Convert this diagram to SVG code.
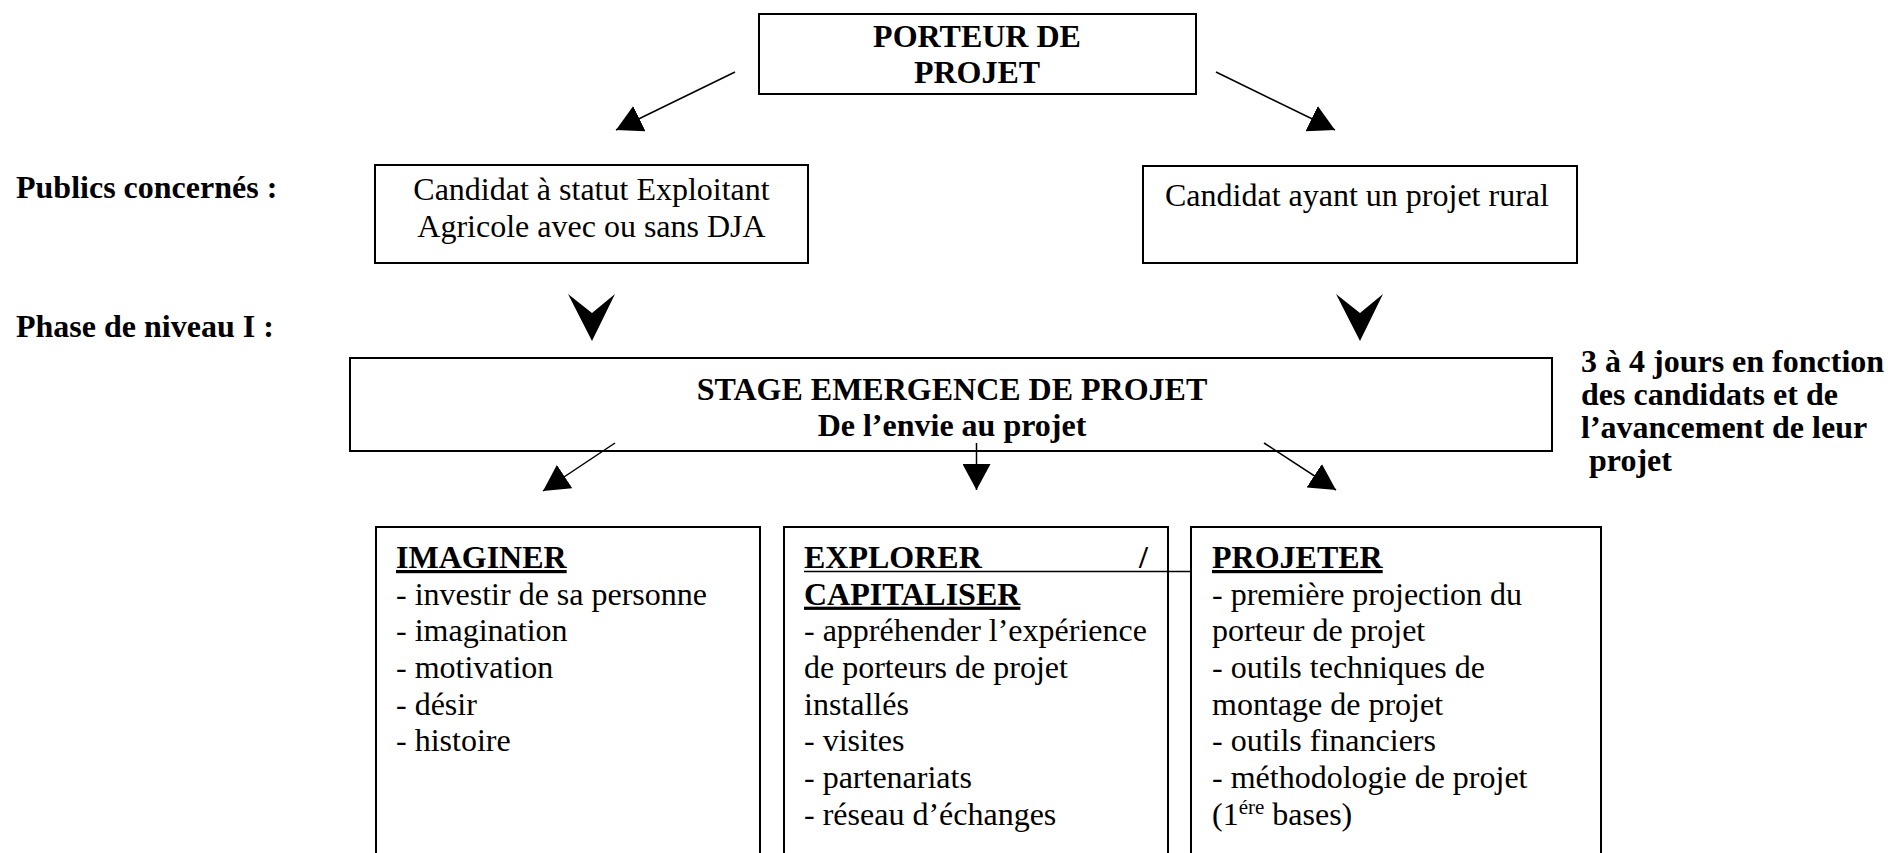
<svg xmlns="http://www.w3.org/2000/svg" width="1888" height="853" viewBox="0 0 1888 853">
<style>
  text { font-family: "Liberation Serif", "Times New Roman", serif; font-size: 32px; fill: #000; }
  .b { font-weight: bold; }
  .u { text-decoration: underline; }
  .c { text-anchor: middle; }
  .box { fill: #fff; stroke: #000; stroke-width: 2; }
  .conn { stroke: #000; stroke-width: 1.5; fill: none; }
  .chev { fill: #000; stroke: none; }
  .ul { stroke: #000; stroke-width: 1.6; }
</style>
<defs>
  <marker id="arr" viewBox="0 0 26 28" refX="26" refY="14" markerWidth="26" markerHeight="28" markerUnits="userSpaceOnUse" orient="auto">
    <path d="M0,0 L26,14 L0,28 z" fill="#000"/>
  </marker>
</defs>
<rect width="1888" height="853" fill="#fff"/>

<g id="porteur">
  <rect class="box" x="759" y="14" width="437" height="80"/>
  <text class="b c" x="977" y="47">PORTEUR DE</text>
  <text class="b c" x="977" y="83">PROJET</text>
</g>

<g id="label-publics">
  <text class="b" x="16" y="198">Publics concernés :</text>
</g>

<g id="candidat-agricole">
  <rect class="box" x="375" y="165" width="433" height="98"/>
  <text class="c" x="591.5" y="200">Candidat à statut Exploitant</text>
  <text class="c" x="591.5" y="237">Agricole avec ou sans DJA</text>
</g>

<g id="candidat-rural">
  <rect class="box" x="1143" y="166" width="434" height="97"/>
  <text x="1165" y="206">Candidat ayant un projet rural</text>
</g>

<g id="label-phase">
  <text class="b" x="16" y="337">Phase de niveau I :</text>
</g>

<g id="stage">
  <rect class="box" x="350" y="358" width="1202" height="93"/>
  <text class="b c" x="952" y="400">STAGE EMERGENCE DE PROJET</text>
  <text class="b c" x="952" y="436">De l’envie au projet</text>
</g>

<g id="duree">
  <text class="b" x="1581" y="372">3 à 4 jours en fonction</text>
  <text class="b" x="1581" y="405">des candidats et de</text>
  <text class="b" x="1581" y="438">l’avancement de leur</text>
  <text class="b" x="1589" y="471">projet</text>
</g>

<g id="imaginer">
  <rect class="box" x="376" y="527" width="384" height="350"/>
  <text class="b u" x="396" y="568">IMAGINER</text>
  <text x="396" y="604.7">- investir de sa personne</text>
  <text x="396" y="641.3">- imagination</text>
  <text x="396" y="678">- motivation</text>
  <text x="396" y="714.7">- désir</text>
  <text x="396" y="751.3">- histoire</text>
</g>

<g id="explorer">
  <rect class="box" x="784" y="527" width="384" height="350"/>
  <text class="b" x="804" y="568">EXPLORER</text>
  <text class="b" x="1139" y="568">/</text>
  <line class="ul" x1="804" y1="571.5" x2="1191" y2="571.5"/>
  <text class="b u" x="804" y="604.7">CAPITALISER</text>
  <text x="804" y="641.3">- appréhender l’expérience</text>
  <text x="804" y="678">de porteurs de projet</text>
  <text x="804" y="714.7">installés</text>
  <text x="804" y="751.3">- visites</text>
  <text x="804" y="788">- partenariats</text>
  <text x="804" y="824.7">- réseau d’échanges</text>
</g>

<g id="projeter">
  <rect class="box" x="1191" y="527" width="410" height="350"/>
  <text class="b u" x="1212" y="568">PROJETER</text>
  <text x="1212" y="604.7">- première projection du</text>
  <text x="1212" y="641.3">porteur de projet</text>
  <text x="1212" y="678">- outils techniques de</text>
  <text x="1212" y="714.7">montage de projet</text>
  <text x="1212" y="751.3">- outils financiers</text>
  <text x="1212" y="788">- méthodologie de projet</text>
  <text x="1212" y="824.7">(1<tspan font-size="21" dy="-11">ére</tspan><tspan dy="11"> bases)</tspan></text>
</g>

<g id="connectors">
  <line class="conn" x1="735" y1="72" x2="616" y2="130" marker-end="url(#arr)"/>
  <line class="conn" x1="1216" y1="72" x2="1335" y2="130" marker-end="url(#arr)"/>
  <polygon class="chev" points="568,294 592,313 615,294 592,341"/>
  <polygon class="chev" points="1336,294 1360,313 1383,294 1360,341"/>
  <line class="conn" x1="615" y1="443" x2="543" y2="491" marker-end="url(#arr)"/>
  <line class="conn" x1="976.5" y1="443" x2="976.5" y2="490" marker-end="url(#arr)"/>
  <line class="conn" x1="1264" y1="443" x2="1336" y2="490" marker-end="url(#arr)"/>
</g>
</svg>
